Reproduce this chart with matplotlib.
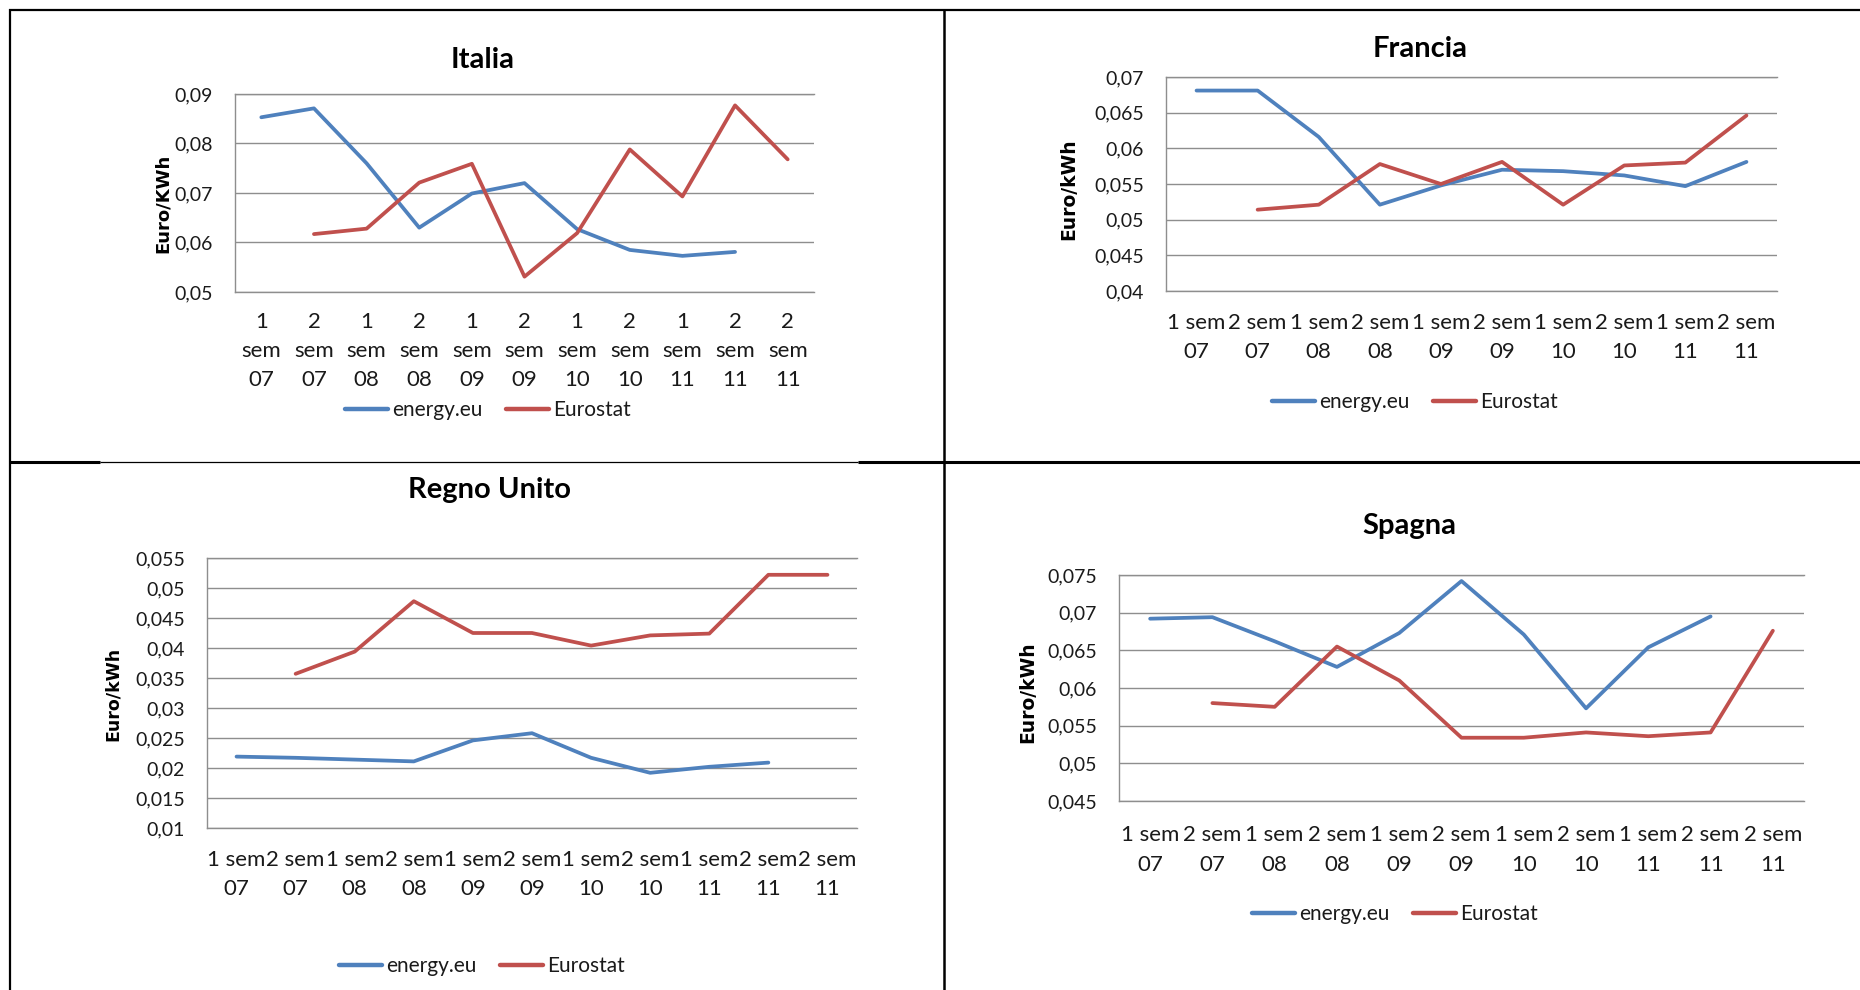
import numpy as np
import matplotlib
matplotlib.use("Agg")
import matplotlib.pyplot as plt
from matplotlib.lines import Line2D
from matplotlib.ticker import FixedLocator, FuncFormatter

W, H = 1860, 990

# ---- data -------------------------------------------------------------
categories = ["1 sem 07", "2 sem 07", "1 sem 08", "2 sem 08", "1 sem 09",
              "2 sem 09", "1 sem 10", "2 sem 10", "1 sem 11", "2 sem 11",
              "2 sem 11"]
series_names = ["energy.eu", "Eurostat"]

nan = np.nan
italia_energy = [0.0853, 0.0871, 0.0760, 0.0630, 0.0699, 0.0720, 0.0627,
                 0.0585, 0.0573, 0.0581, nan]
italia_eurostat = [nan, 0.0617, 0.0628, 0.0721, 0.0759, 0.0531, 0.0619,
                   0.0788, 0.0693, 0.0877, 0.0768]
italia_yticks = [0.05, 0.06, 0.07, 0.08, 0.09]

francia_energy = [0.0681, 0.0681, 0.0616, 0.0521, 0.0548, 0.0570, 0.0568,
                  0.0562, 0.0547, 0.0581]
francia_eurostat = [nan, 0.0514, 0.0521, 0.0578, 0.0550, 0.0581, 0.0521,
                    0.0576, 0.0580, 0.0646]
francia_yticks = [0.04, 0.045, 0.05, 0.055, 0.06, 0.065, 0.07]

uk_energy = [0.0219, 0.0217, 0.0214, 0.0211, 0.0246, 0.0258, 0.0217,
             0.0192, 0.0202, 0.0209, nan]
uk_eurostat = [nan, 0.0357, 0.0394, 0.0478, 0.0425, 0.0425, 0.0404,
               0.0421, 0.0424, 0.0522, 0.0522]
uk_yticks = [0.01, 0.015, 0.02, 0.025, 0.03, 0.035, 0.04, 0.045, 0.05, 0.055]

spagna_energy = [0.0692, 0.0694, 0.0662, 0.0628, 0.0673, 0.0742, 0.0671,
                 0.0573, 0.0654, 0.0695, nan]
spagna_eurostat = [nan, 0.0580, 0.0575, 0.0655, 0.0610, 0.0534, 0.0534,
                   0.0541, 0.0536, 0.0541, 0.0676]
spagna_yticks = [0.045, 0.05, 0.055, 0.06, 0.065, 0.07, 0.075]

# ---- style ------------------------------------------------------------
BLUE = "#4F81BD"
RED = "#C0504D"
GRID = "#8E8E8E"
TEXT = "#1a1a1a"
FONT = ["Lato", "DejaVu Sans"]
plt.rcParams["font.family"] = FONT

fig = plt.figure(figsize=(W / 100, H / 100), dpi=100)
fig.patch.set_facecolor("white")


def rect(left, top, right, bottom):
    return [left / W, 1 - bottom / H, (right - left) / W, (bottom - top) / H]


def fx(x):
    return x / W


def fy(y):
    return 1 - y / H


def comma(v, _pos=None):
    return f"{v:g}".replace(".", ",")


panels = [
    dict(title="Italia", ylabel="Euro/KWh", energy=italia_energy,
         eurostat=italia_eurostat, yticks=italia_yticks, n=11, stack=True,
         box=(235, 94, 814, 292), title_xy=(483, 60), ylabel_xy=(163, 203),
         ylabel_size=13, legend_xy=(345, 410), xpad=14.5, xspace=1.55),
    dict(title="Francia", ylabel="Euro/kWh", energy=francia_energy,
         eurostat=francia_eurostat, yticks=francia_yticks, n=10, stack=False,
         box=(1166, 77, 1777, 291), title_xy=(1420, 49), ylabel_xy=(1069, 189),
         ylabel_size=13.5, legend_xy=(1272, 402), xpad=15.5, xspace=1.6),
    dict(title="Regno Unito", ylabel="Euro/kWh", energy=uk_energy,
         eurostat=uk_eurostat, yticks=uk_yticks, n=11, stack=False,
         box=(207, 558, 857, 828), title_xy=(489, 490), ylabel_xy=(113, 694),
         ylabel_size=12.5, legend_xy=(339, 966), xpad=15.5, xspace=1.6),
    dict(title="Spagna", ylabel="Euro/kWh", energy=spagna_energy,
         eurostat=spagna_eurostat, yticks=spagna_yticks, n=11, stack=False,
         box=(1119, 575, 1804, 801), title_xy=(1409, 526), ylabel_xy=(1028, 692),
         ylabel_size=13.5, legend_xy=(1252, 914), xpad=17.5, xspace=1.6),
]

for p in panels:
    n = p["n"]
    cats = categories[:n]
    x = np.arange(n)
    ax = fig.add_axes(rect(*p["box"]))
    l1, = ax.plot(x, p["energy"][:n], color=BLUE, lw=2.7,
                  solid_joinstyle="round", solid_capstyle="round", zorder=3)
    l2, = ax.plot(x, p["eurostat"][:n], color=RED, lw=2.7,
                  solid_joinstyle="round", solid_capstyle="round", zorder=3)
    ax.set_xlim(-0.5, n - 0.5)
    ax.set_ylim(p["yticks"][0], p["yticks"][-1])
    ax.yaxis.set_major_locator(FixedLocator(p["yticks"]))
    ax.yaxis.set_major_formatter(FuncFormatter(comma))
    ax.grid(axis="y", color=GRID, lw=1.0)
    ax.set_axisbelow(True)
    for side in ("top", "bottom", "left"):
        ax.spines[side].set_color(GRID)
        ax.spines[side].set_linewidth(1.0)
    ax.spines["right"].set_visible(False)

    if p["stack"]:
        labels = [c.replace(" ", "\n") for c in cats]
    else:
        labels = ["\n".join(c.rsplit(" ", 1)) for c in cats]
    ax.set_xticks(x)
    ax.set_xticklabels(labels, fontsize=16, color=TEXT)
    for t in ax.get_xticklabels():
        t.set_linespacing(p["xspace"])
    ax.tick_params(axis="x", length=0, pad=p["xpad"])
    ax.tick_params(axis="y", length=0, pad=16, labelsize=14,
                   labelcolor=TEXT)

    fig.text(fx(p["title_xy"][0]), fy(p["title_xy"][1]), p["title"],
             ha="center", va="center", fontsize=21, fontweight="bold",
             color="black")
    fig.text(fx(p["ylabel_xy"][0]), fy(p["ylabel_xy"][1]), p["ylabel"],
             ha="center", va="center", rotation=90, fontsize=p["ylabel_size"],
             fontweight="bold", family="DejaVu Sans", color="black")

    leg = ax.legend([l1, l2], series_names, loc="center left",
                    bbox_to_anchor=(fx(p["legend_xy"][0]), fy(p["legend_xy"][1])),
                    bbox_transform=fig.transFigure, ncol=2, frameon=False,
                    borderpad=0, borderaxespad=0, handlelength=2.05,
                    handletextpad=0.2, columnspacing=1.15, fontsize=15,
                    labelcolor=TEXT)
    for h in leg.get_lines():
        h.set_linewidth(3.2)

# ---- table frame around the four charts ------------------------------
def rule(x0, y0, x1, y1, lw):
    fig.add_artist(Line2D([fx(x0), fx(x1)], [fy(y0), fy(y1)], color="black",
                          lw=lw, solid_capstyle="butt",
                          transform=fig.transFigure))


rule(9, 10, W, 10, 1.6)        # top
rule(10, 9, 10, H, 1.6)        # left
rule(944, 9, 944, H, 1.8)      # centre vertical
rule(9, 462, 100, 462, 2.2)    # middle horizontal
rule(100, 462, 858, 462, 0.9)
rule(858, 462, W, 462, 2.2)

fig.savefig("out.png", dpi=100, facecolor="white")
